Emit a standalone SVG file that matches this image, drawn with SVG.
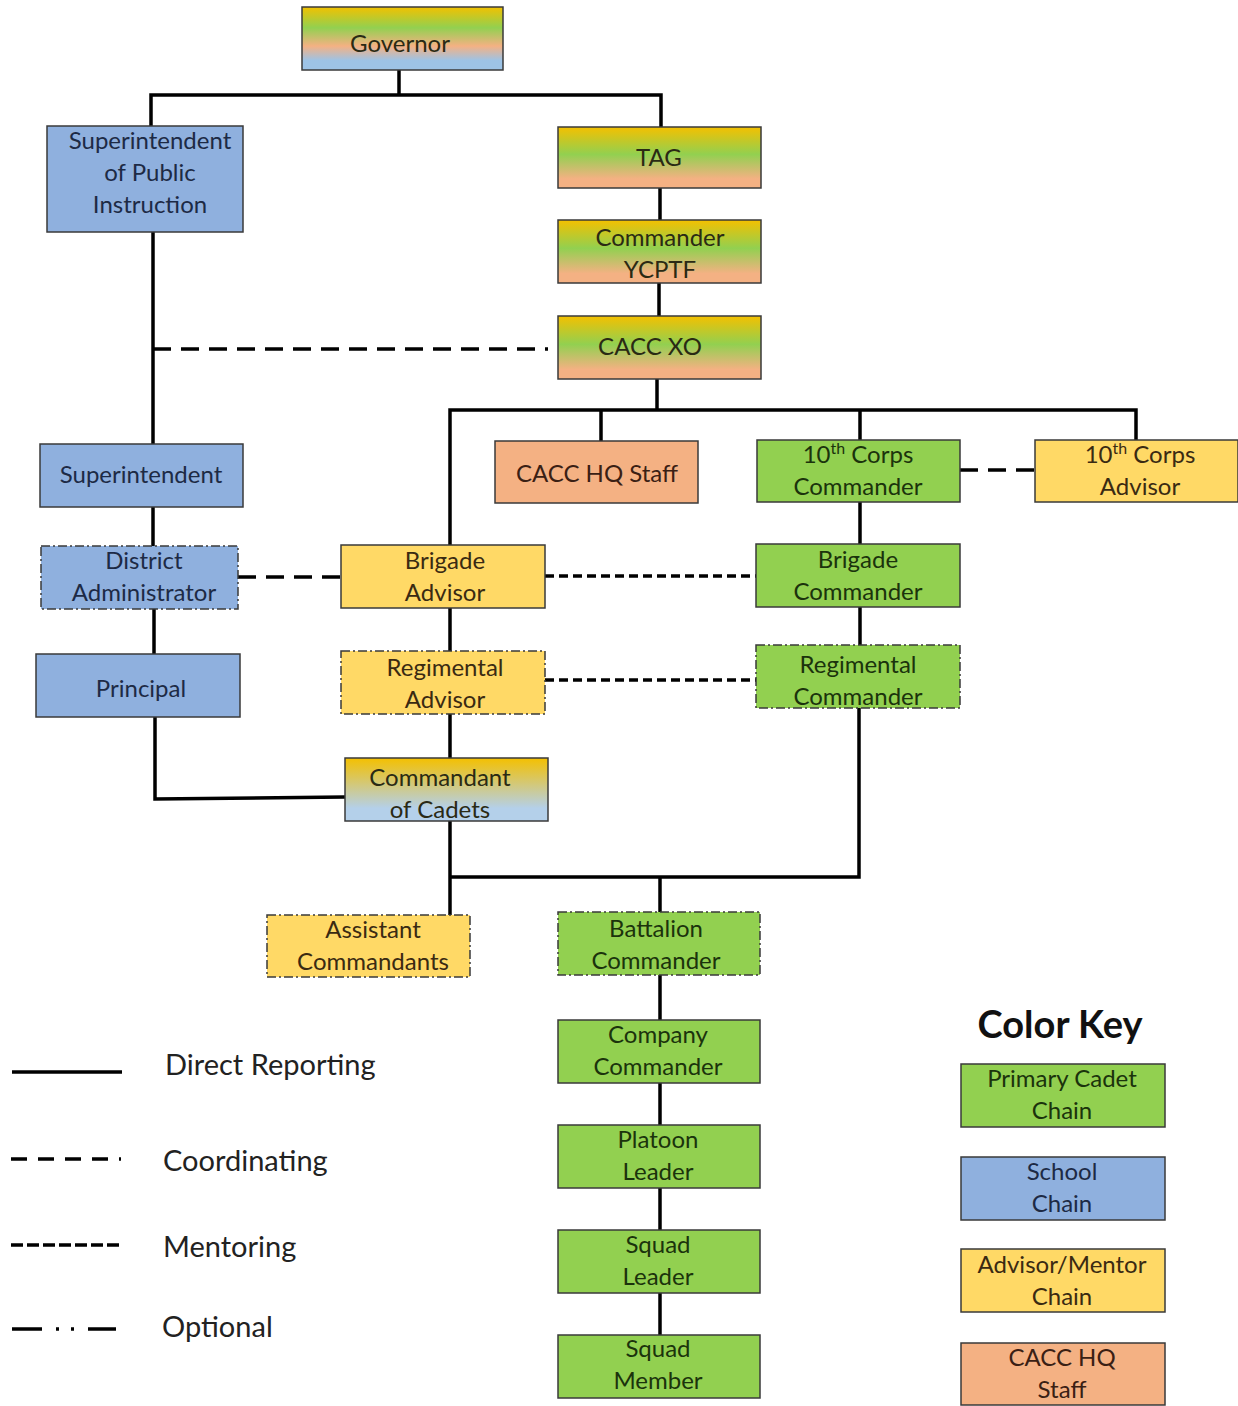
<svg xmlns="http://www.w3.org/2000/svg" width="1238" height="1406" viewBox="0 0 1238 1406">
<defs>
<linearGradient id="gGov" x1="0" y1="0" x2="0" y2="1">
<stop offset="0" stop-color="#f2c100"/>
<stop offset="0.33" stop-color="#92d050"/>
<stop offset="0.62" stop-color="#f4b183"/>
<stop offset="0.85" stop-color="#9dc3e6"/>
</linearGradient>
<linearGradient id="gTag" x1="0" y1="0" x2="0" y2="1">
<stop offset="0" stop-color="#f4c000"/>
<stop offset="0.45" stop-color="#92d050"/>
<stop offset="0.85" stop-color="#f4b183"/>
</linearGradient>
<linearGradient id="gCom" x1="0" y1="0" x2="0" y2="1">
<stop offset="0" stop-color="#f4c000"/>
<stop offset="0.8" stop-color="#b4d0ea"/>
</linearGradient>
<style>
.box{stroke:#3a3a3a;stroke-width:1.5}
.opt{stroke-dasharray:9 3 2 3}
.g{fill:#92d050}
.b{fill:#8fb0de}
.y{fill:#ffd966}
.o{fill:#f4b183}
text{font-family:Lato,"Open Sans","Liberation Sans",sans-serif;font-size:24px;text-anchor:middle}
.tg{fill:#1b330c}
.tb{fill:#1d2a45}
.ty{fill:#3a2a12}
.to{fill:#3a2014}
.tm{fill:#2a2a14}
.c line,.c path,.c polyline{stroke:#000;stroke-width:3.5;fill:none}
.coord{stroke-dasharray:18 10}
.ment{stroke-dasharray:9 5}
.leg{font-size:29px;text-anchor:start;fill:#222}
</style>
</defs>

<g class="c" id="connectors">
<polyline points="399,70 399,95"/>
<polyline points="151,126 151,95 661,95 661,127"/>
<line x1="660" y1="188" x2="660" y2="220"/>
<line x1="659" y1="283" x2="659" y2="316"/>
<line x1="153" y1="232" x2="153" y2="444"/>
<line class="coord" x1="153" y1="349" x2="548" y2="349"/>
<line x1="657" y1="379" x2="657" y2="410"/>
<polyline points="450,545 450,410 1136,410 1136,440"/>
<line x1="601" y1="410" x2="601" y2="441"/>
<line x1="860" y1="410" x2="860" y2="440"/>
<line class="coord" x1="960" y1="470" x2="1035" y2="470"/>
<line x1="153" y1="507" x2="153" y2="546"/>
<line x1="154" y1="609" x2="154" y2="654"/>
<polyline points="155,717 155,799 345,797"/>
<line class="coord" x1="238" y1="577" x2="341" y2="577"/>
<line class="ment" x1="545" y1="576" x2="756" y2="576"/>
<line class="ment" x1="545" y1="680" x2="756" y2="680"/>
<line x1="860" y1="502" x2="860" y2="544"/>
<line x1="860" y1="607" x2="860" y2="645"/>
<line x1="450" y1="608" x2="450" y2="651"/>
<line x1="450" y1="714" x2="450" y2="758"/>
<polyline points="450,821 450,915"/>
<polyline points="450,877 859,877 859,708"/>
<line x1="660" y1="877" x2="660" y2="912"/>
<line x1="660" y1="975" x2="660" y2="1020"/>
<line x1="660" y1="1083" x2="660" y2="1125"/>
<line x1="660" y1="1188" x2="660" y2="1230"/>
<line x1="660" y1="1293" x2="660" y2="1335"/>
</g>

<g id="governor"><rect class="box" x="302" y="7" width="201" height="63" fill="url(#gGov)"/><text class="tm" x="400" y="52">Governor</text></g>
<g id="spi"><rect class="box b" x="47" y="126" width="196" height="106"/><text class="tb" x="150" y="149">Superintendent</text><text class="tb" x="150" y="181">of Public</text><text class="tb" x="150" y="213">Instruction</text></g>
<g id="tag"><rect class="box" x="558" y="127" width="203" height="61" fill="url(#gTag)"/><text class="tm" x="659" y="166">TAG</text></g>
<g id="cmdycptf"><rect class="box" x="558" y="220" width="203" height="63" fill="url(#gTag)"/><text class="tm" x="660" y="246">Commander</text><text class="tm" x="660" y="278">YCPTF</text></g>
<g id="caccxo"><rect class="box" x="558" y="316" width="203" height="63" fill="url(#gTag)"/><text class="tm" x="650" y="355">CACC XO</text></g>
<g id="supt"><rect class="box b" x="40" y="444" width="203" height="63"/><text class="tb" x="141" y="483">Superintendent</text></g>
<g id="hqstaff"><rect class="box o" x="495" y="441" width="203" height="62"/><text class="to" x="597" y="482">CACC HQ Staff</text></g>
<g id="corpscmd"><rect class="box g" x="757" y="440" width="203" height="62"/><text class="tg" x="858" y="463">10<tspan font-size="16" dy="-9">th</tspan><tspan dy="9"> Corps</tspan></text><text class="tg" x="858" y="495">Commander</text></g>
<g id="corpsadv"><rect class="box y" x="1035" y="440" width="203" height="62"/><text class="ty" x="1140" y="463">10<tspan font-size="16" dy="-9">th</tspan><tspan dy="9"> Corps</tspan></text><text class="ty" x="1140" y="495">Advisor</text></g>
<g id="distadmin"><rect class="box b opt" x="41" y="546" width="197" height="63"/><text class="tb" x="144" y="569">District</text><text class="tb" x="144" y="601">Administrator</text></g>
<g id="brigadv"><rect class="box y" x="341" y="545" width="204" height="63"/><text class="ty" x="445" y="569">Brigade</text><text class="ty" x="445" y="601">Advisor</text></g>
<g id="brigcmd"><rect class="box g" x="756" y="544" width="204" height="63"/><text class="tg" x="858" y="568">Brigade</text><text class="tg" x="858" y="600">Commander</text></g>
<g id="principal"><rect class="box b" x="36" y="654" width="204" height="63"/><text class="tb" x="141" y="697">Principal</text></g>
<g id="regadv"><rect class="box y opt" x="341" y="651" width="204" height="63"/><text class="ty" x="445" y="676">Regimental</text><text class="ty" x="445" y="708">Advisor</text></g>
<g id="regcmd"><rect class="box g opt" x="756" y="645" width="204" height="63"/><text class="tg" x="858" y="673">Regimental</text><text class="tg" x="858" y="705">Commander</text></g>
<g id="commandant"><rect class="box" x="345" y="758" width="203" height="63" fill="url(#gCom)"/><text class="tm" x="440" y="786">Commandant</text><text class="tm" x="440" y="818">of Cadets</text></g>
<g id="asstcmdt"><rect class="box y opt" x="267" y="915" width="203" height="62"/><text class="ty" x="373" y="938">Assistant</text><text class="ty" x="373" y="970">Commandants</text></g>
<g id="bncmd"><rect class="box g opt" x="558" y="912" width="202" height="63"/><text class="tg" x="656" y="937">Battalion</text><text class="tg" x="656" y="969">Commander</text></g>
<g id="cocmd"><rect class="box g" x="558" y="1020" width="202" height="63"/><text class="tg" x="658" y="1043">Company</text><text class="tg" x="658" y="1075">Commander</text></g>
<g id="pltldr"><rect class="box g" x="558" y="1125" width="202" height="63"/><text class="tg" x="658" y="1148">Platoon</text><text class="tg" x="658" y="1180">Leader</text></g>
<g id="sqdldr"><rect class="box g" x="558" y="1230" width="202" height="63"/><text class="tg" x="658" y="1253">Squad</text><text class="tg" x="658" y="1285">Leader</text></g>
<g id="sqdmbr"><rect class="box g" x="558" y="1335" width="202" height="63"/><text class="tg" x="658" y="1357">Squad</text><text class="tg" x="658" y="1389">Member</text></g>

<g id="legend">
<g class="c">
<line x1="12" y1="1072" x2="122" y2="1072"/>
<line class="coord" x1="11" y1="1159" x2="121" y2="1159" style="stroke-dasharray:16 11"/>
<line class="ment" x1="11" y1="1245" x2="121" y2="1245" style="stroke-dasharray:12 4"/>
<line x1="12" y1="1329" x2="116" y2="1329" style="stroke-dasharray:30 14 3 12 3 14 30"/>
</g>
<text class="leg" x="165" y="1075">Direct Reporting</text>
<text class="leg" x="163" y="1171">Coordinating</text>
<text class="leg" x="163" y="1257">Mentoring</text>
<text class="leg" x="162" y="1337">Optional</text>
</g>

<g id="colorkey">
<text x="1060" y="1038" style="font-size:38px;font-weight:bold;fill:#111">Color Key</text>
<rect class="box g" x="961" y="1064" width="204" height="63"/><text class="tg" x="1062" y="1087">Primary Cadet</text><text class="tg" x="1062" y="1119">Chain</text>
<rect class="box b" x="961" y="1157" width="204" height="63"/><text class="tb" x="1062" y="1180">School</text><text class="tb" x="1062" y="1212">Chain</text>
<rect class="box y" x="961" y="1249" width="204" height="63"/><text class="ty" x="1062" y="1273">Advisor/Mentor</text><text class="ty" x="1062" y="1305">Chain</text>
<rect class="box o" x="961" y="1343" width="204" height="62"/><text class="to" x="1062" y="1366">CACC HQ</text><text class="to" x="1062" y="1398">Staff</text>
</g>
</svg>
